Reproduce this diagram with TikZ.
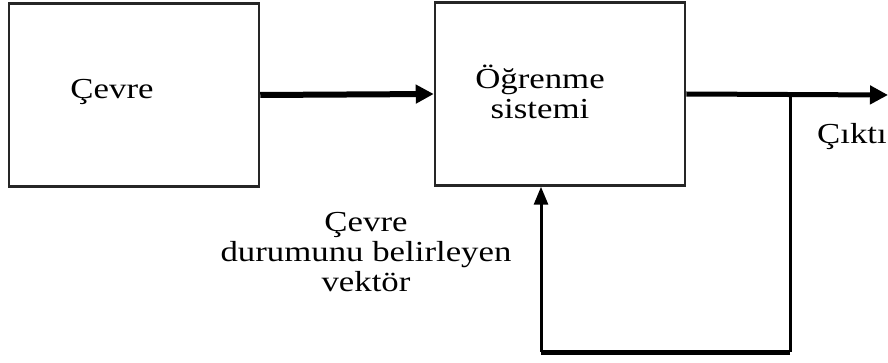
\documentclass[tikz,border=0pt]{standalone}
\usepackage{fontspec}
\setmainfont[FakeStretch=1.2]{Liberation Serif}
\usetikzlibrary{positioning,arrows.meta}

\begin{document}
\begin{tikzpicture}[x=1pt, y=-1pt, >={Triangle[length=18pt,width=18pt]},
  blok/.style={draw=black!85, line width=2.5pt, minimum width=250pt, minimum height=183pt, inner sep=0pt},
  yazi/.style={font=\fontsize{29}{30}\selectfont, align=center},
  kalin/.style={line width=6pt}]

  \useasboundingbox (0,0) rectangle (888,363);

  % Blocks
  \node[blok] (cevre) at (134,95) {};
  \node[yazi] (cevretxt) at (112,92) {Çevre};
  \node[blok] (sistem) at (560,94) {};
  \node[yazi] (sistemtxt) at (540,92) {Öğrenme\\sistemi};

  % Input arrow
  \draw[kalin, ->] (cevre.east) -- (sistem.west);

  % Output and feedback
  \coordinate (dal) at (790,95);
  \coordinate (cikis) at (888,95);
  \coordinate (alt) at (790,352);
  \draw[line width=5pt, ->] (sistem.east) -- (cikis);
  \draw[line width=3pt] (dal) -- (alt);
  \draw[line width=5pt] (alt) -- (alt -| 541,0);
  \draw[line width=3pt, {Triangle[length=18pt,width=14pt]}-] ([xshift=-19pt]sistem.south) -- ([xshift=-19pt]sistem.south |- alt);

  % Labels
  \node[yazi, anchor=east, inner xsep=0pt] (cikti) at (887,137) {Çıktı};
  \node[yazi] (vektor) at (366,252) {Çevre\\durumunu belirleyen\\vektör};

\end{tikzpicture}
\end{document}
